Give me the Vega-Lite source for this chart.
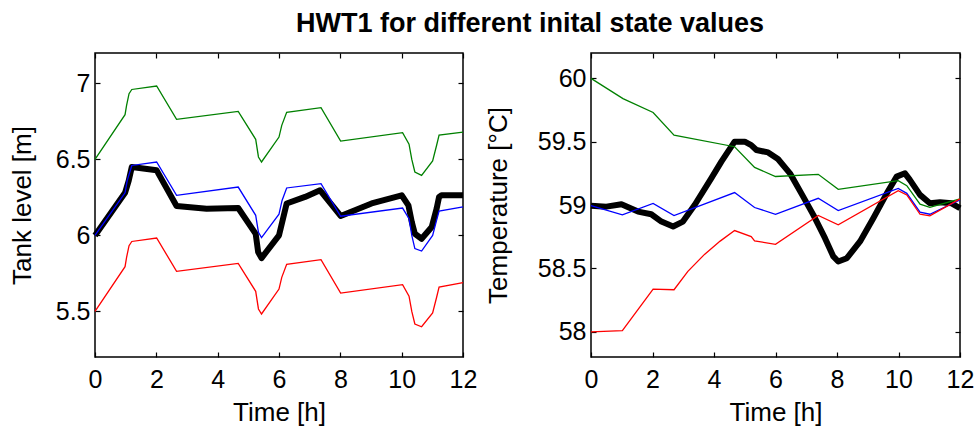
{
  "$schema": "https://vega.github.io/schema/vega-lite/v6.json",
  "padding": {"left": 8, "top": 9, "right": 5, "bottom": 2},
  "title": {"text": "HWT1 for different inital state values", "fontSize": 27, "fontWeight": "bold", "font": "Liberation Sans", "color": "black", "anchor": "start", "align": "center", "frame": "group", "dx": 435, "offset": 14},
  "config": {
    "font": "Liberation Sans",
    "view": {"stroke": "black", "strokeWidth": 1.5},
    "axis": {"labelFontSize": 25, "titleFontSize": 26, "titleFontWeight": "normal", "labelColor": "black", "titleColor": "black", "domain": false, "tickColor": "black", "tickSize": -5, "tickWidth": 1.2, "grid": false, "labelFont": "Liberation Sans", "titleFont": "Liberation Sans", "labelFlush": false, "format": "~g"}
  },
  "spacing": 128,
  "bounds": "flush",
  "datasets": {
    "tank": [
      {"s": "black", "t": 0, "v": 6.0}, {"s": "black", "t": 0.98, "v": 6.28}, {"s": "black", "t": 1.1, "v": 6.36}, {"s": "black", "t": 1.2, "v": 6.45}, {"s": "black", "t": 2.01, "v": 6.428}, {"s": "black", "t": 2.66, "v": 6.193}, {"s": "black", "t": 3.64, "v": 6.176}, {"s": "black", "t": 4.67, "v": 6.18}, {"s": "black", "t": 5.24, "v": 6.01}, {"s": "black", "t": 5.32, "v": 5.89}, {"s": "black", "t": 5.43, "v": 5.851}, {"s": "black", "t": 6.0, "v": 6.0}, {"s": "black", "t": 6.25, "v": 6.21}, {"s": "black", "t": 6.85, "v": 6.253}, {"s": "black", "t": 7.34, "v": 6.297}, {"s": "black", "t": 8.01, "v": 6.128}, {"s": "black", "t": 9.02, "v": 6.21}, {"s": "black", "t": 10.0, "v": 6.264}, {"s": "black", "t": 10.22, "v": 6.198}, {"s": "black", "t": 10.33, "v": 6.088}, {"s": "black", "t": 10.43, "v": 6.011}, {"s": "black", "t": 10.65, "v": 5.978}, {"s": "black", "t": 10.98, "v": 6.055}, {"s": "black", "t": 11.14, "v": 6.176}, {"s": "black", "t": 11.22, "v": 6.253}, {"s": "black", "t": 11.3, "v": 6.264}, {"s": "black", "t": 12, "v": 6.264},
      {"s": "blue", "t": 0, "v": 6.0}, {"s": "blue", "t": 0.98, "v": 6.28}, {"s": "blue", "t": 1.05, "v": 6.36}, {"s": "blue", "t": 1.2, "v": 6.46}, {"s": "blue", "t": 2.01, "v": 6.483}, {"s": "blue", "t": 2.66, "v": 6.264}, {"s": "blue", "t": 4.67, "v": 6.318}, {"s": "blue", "t": 5.24, "v": 6.132}, {"s": "blue", "t": 5.33, "v": 6.02}, {"s": "blue", "t": 5.43, "v": 5.985}, {"s": "blue", "t": 6.0, "v": 6.14}, {"s": "blue", "t": 6.1, "v": 6.23}, {"s": "blue", "t": 6.25, "v": 6.312}, {"s": "blue", "t": 7.37, "v": 6.34}, {"s": "blue", "t": 8.01, "v": 6.126}, {"s": "blue", "t": 10.03, "v": 6.18}, {"s": "blue", "t": 10.24, "v": 6.11}, {"s": "blue", "t": 10.33, "v": 6.0}, {"s": "blue", "t": 10.43, "v": 5.913}, {"s": "blue", "t": 10.65, "v": 5.897}, {"s": "blue", "t": 11.01, "v": 6.0}, {"s": "blue", "t": 11.14, "v": 6.1}, {"s": "blue", "t": 11.22, "v": 6.16}, {"s": "blue", "t": 12, "v": 6.187},
      {"s": "green", "t": 0, "v": 6.5}, {"s": "green", "t": 0.98, "v": 6.794}, {"s": "green", "t": 1.03, "v": 6.856}, {"s": "green", "t": 1.11, "v": 6.932}, {"s": "green", "t": 1.2, "v": 6.96}, {"s": "green", "t": 2.01, "v": 6.983}, {"s": "green", "t": 2.66, "v": 6.764}, {"s": "green", "t": 4.67, "v": 6.816}, {"s": "green", "t": 5.24, "v": 6.632}, {"s": "green", "t": 5.33, "v": 6.516}, {"s": "green", "t": 5.43, "v": 6.483}, {"s": "green", "t": 6.0, "v": 6.647}, {"s": "green", "t": 6.09, "v": 6.724}, {"s": "green", "t": 6.25, "v": 6.81}, {"s": "green", "t": 7.37, "v": 6.84}, {"s": "green", "t": 8.01, "v": 6.62}, {"s": "green", "t": 10.03, "v": 6.676}, {"s": "green", "t": 10.24, "v": 6.6}, {"s": "green", "t": 10.33, "v": 6.5}, {"s": "green", "t": 10.43, "v": 6.417}, {"s": "green", "t": 10.65, "v": 6.395}, {"s": "green", "t": 11.01, "v": 6.49}, {"s": "green", "t": 11.14, "v": 6.593}, {"s": "green", "t": 11.22, "v": 6.66}, {"s": "green", "t": 12, "v": 6.68},
      {"s": "red", "t": 0, "v": 5.5}, {"s": "red", "t": 0.98, "v": 5.794}, {"s": "red", "t": 1.03, "v": 5.856}, {"s": "red", "t": 1.11, "v": 5.932}, {"s": "red", "t": 1.2, "v": 5.96}, {"s": "red", "t": 2.01, "v": 5.983}, {"s": "red", "t": 2.66, "v": 5.764}, {"s": "red", "t": 4.67, "v": 5.816}, {"s": "red", "t": 5.24, "v": 5.632}, {"s": "red", "t": 5.33, "v": 5.516}, {"s": "red", "t": 5.43, "v": 5.483}, {"s": "red", "t": 6.0, "v": 5.647}, {"s": "red", "t": 6.09, "v": 5.724}, {"s": "red", "t": 6.25, "v": 5.81}, {"s": "red", "t": 7.37, "v": 5.84}, {"s": "red", "t": 8.01, "v": 5.62}, {"s": "red", "t": 10.03, "v": 5.676}, {"s": "red", "t": 10.24, "v": 5.6}, {"s": "red", "t": 10.33, "v": 5.5}, {"s": "red", "t": 10.43, "v": 5.417}, {"s": "red", "t": 10.65, "v": 5.399}, {"s": "red", "t": 11.01, "v": 5.49}, {"s": "red", "t": 11.14, "v": 5.593}, {"s": "red", "t": 11.22, "v": 5.66}, {"s": "red", "t": 12, "v": 5.689}
    ],
    "temp": [
      {"s": "black", "t": 0, "v": 58.995}, {"s": "black", "t": 0.5, "v": 58.987}, {"s": "black", "t": 0.99, "v": 59.006}, {"s": "black", "t": 1.53, "v": 58.948}, {"s": "black", "t": 1.96, "v": 58.927}, {"s": "black", "t": 2.29, "v": 58.869}, {"s": "black", "t": 2.67, "v": 58.83}, {"s": "black", "t": 2.99, "v": 58.869}, {"s": "black", "t": 3.37, "v": 59.0}, {"s": "black", "t": 3.91, "v": 59.21}, {"s": "black", "t": 4.24, "v": 59.342}, {"s": "black", "t": 4.67, "v": 59.5}, {"s": "black", "t": 5.0, "v": 59.5}, {"s": "black", "t": 5.21, "v": 59.473}, {"s": "black", "t": 5.38, "v": 59.434}, {"s": "black", "t": 5.76, "v": 59.415}, {"s": "black", "t": 6.08, "v": 59.363}, {"s": "black", "t": 6.47, "v": 59.25}, {"s": "black", "t": 6.9, "v": 59.066}, {"s": "black", "t": 7.23, "v": 58.922}, {"s": "black", "t": 7.61, "v": 58.738}, {"s": "black", "t": 7.88, "v": 58.594}, {"s": "black", "t": 8.04, "v": 58.554}, {"s": "black", "t": 8.32, "v": 58.58}, {"s": "black", "t": 8.75, "v": 58.712}, {"s": "black", "t": 9.18, "v": 58.895}, {"s": "black", "t": 9.62, "v": 59.092}, {"s": "black", "t": 9.94, "v": 59.224}, {"s": "black", "t": 10.21, "v": 59.25}, {"s": "black", "t": 10.37, "v": 59.198}, {"s": "black", "t": 10.7, "v": 59.08}, {"s": "black", "t": 11.02, "v": 59.013}, {"s": "black", "t": 11.35, "v": 59.021}, {"s": "black", "t": 11.73, "v": 59.013}, {"s": "black", "t": 12, "v": 58.974},
      {"s": "blue", "t": 0, "v": 58.995}, {"s": "blue", "t": 1.02, "v": 58.922}, {"s": "blue", "t": 2.02, "v": 59.013}, {"s": "blue", "t": 2.7, "v": 58.917}, {"s": "blue", "t": 4.67, "v": 59.098}, {"s": "blue", "t": 5.32, "v": 58.98}, {"s": "blue", "t": 6.0, "v": 58.927}, {"s": "blue", "t": 7.39, "v": 59.053}, {"s": "blue", "t": 8.04, "v": 58.956}, {"s": "blue", "t": 9.99, "v": 59.131}, {"s": "blue", "t": 10.27, "v": 59.092}, {"s": "blue", "t": 10.7, "v": 58.943}, {"s": "blue", "t": 11.02, "v": 58.927}, {"s": "blue", "t": 12, "v": 59.04},
      {"s": "green", "t": 0, "v": 60.0}, {"s": "green", "t": 1.04, "v": 59.84}, {"s": "green", "t": 2.02, "v": 59.73}, {"s": "green", "t": 2.7, "v": 59.552}, {"s": "green", "t": 4.67, "v": 59.46}, {"s": "green", "t": 5.32, "v": 59.297}, {"s": "green", "t": 6.0, "v": 59.225}, {"s": "green", "t": 7.39, "v": 59.242}, {"s": "green", "t": 8.04, "v": 59.124}, {"s": "green", "t": 9.99, "v": 59.192}, {"s": "green", "t": 10.27, "v": 59.153}, {"s": "green", "t": 10.7, "v": 59.006}, {"s": "green", "t": 11.02, "v": 58.982}, {"s": "green", "t": 12, "v": 59.048},
      {"s": "red", "t": 0, "v": 57.998}, {"s": "red", "t": 1.02, "v": 58.008}, {"s": "red", "t": 2.02, "v": 58.336}, {"s": "red", "t": 2.7, "v": 58.331}, {"s": "red", "t": 3.15, "v": 58.476}, {"s": "red", "t": 3.7, "v": 58.612}, {"s": "red", "t": 4.2, "v": 58.715}, {"s": "red", "t": 4.67, "v": 58.798}, {"s": "red", "t": 5.21, "v": 58.751}, {"s": "red", "t": 5.32, "v": 58.717}, {"s": "red", "t": 6.0, "v": 58.69}, {"s": "red", "t": 7.39, "v": 58.917}, {"s": "red", "t": 8.04, "v": 58.843}, {"s": "red", "t": 9.99, "v": 59.113}, {"s": "red", "t": 10.27, "v": 59.079}, {"s": "red", "t": 10.7, "v": 58.927}, {"s": "red", "t": 11.02, "v": 58.914}, {"s": "red", "t": 12, "v": 59.048}
    ]
  },
  "hconcat": [
    {
      "width": 368, "height": 304,
      "data": {"name": "tank"},
      "layer": [
        {
          "transform": [{"filter": "datum.s === 'black'"}],
          "mark": {"type": "line", "color": "black", "strokeWidth": 6, "strokeJoin": "round"},
          "encoding": {
            "x": {"field": "t", "type": "quantitative", "scale": {"domain": [0, 12]}, "axis": {"title": "Time [h]", "values": [0, 2, 4, 6, 8, 10, 12], "labelPadding": 15, "titlePadding": 7}},
            "y": {"field": "v", "type": "quantitative", "scale": {"domain": [5.2, 7.2], "zero": false}, "axis": {"title": "Tank level [m]", "values": [5.5, 6, 6.5, 7], "labelPadding": 10, "titlePadding": 20}}
          }
        },
        {
          "transform": [{"filter": "datum.s !== 'black'"}],
          "mark": {"type": "line", "strokeWidth": 1.3},
          "encoding": {
            "x": {"field": "t", "type": "quantitative", "axis": null},
            "y": {"field": "v", "type": "quantitative", "axis": null},
            "color": {"field": "s", "type": "nominal", "scale": {"domain": ["blue", "green", "red"], "range": ["#0000ff", "#008000", "#ff0000"]}, "legend": null}
          }
        },
        {
          "mark": {"type": "line", "opacity": 0},
          "encoding": {
            "x": {"field": "t", "type": "quantitative", "axis": {"orient": "top", "labels": false, "title": null, "values": [0, 2, 4, 6, 8, 10, 12]}},
            "y": {"field": "v", "type": "quantitative", "axis": {"orient": "right", "labels": false, "title": null, "values": [5.5, 6, 6.5, 7]}},
            "detail": {"field": "s"}
          }
        }
      ],
      "resolve": {"axis": {"x": "independent", "y": "independent"}}
    },
    {
      "width": 369, "height": 304,
      "data": {"name": "temp"},
      "layer": [
        {
          "transform": [{"filter": "datum.s === 'black'"}],
          "mark": {"type": "line", "color": "black", "strokeWidth": 6, "strokeJoin": "round"},
          "encoding": {
            "x": {"field": "t", "type": "quantitative", "scale": {"domain": [0, 12]}, "axis": {"title": "Time [h]", "values": [0, 2, 4, 6, 8, 10, 12], "labelPadding": 15, "titlePadding": 7}},
            "y": {"field": "v", "type": "quantitative", "scale": {"domain": [57.8, 60.2], "zero": false}, "axis": {"title": "Temperature [°C]", "values": [58, 58.5, 59, 59.5, 60], "labelPadding": 10, "titlePadding": 26}}
          }
        },
        {
          "transform": [{"filter": "datum.s !== 'black'"}],
          "mark": {"type": "line", "strokeWidth": 1.3},
          "encoding": {
            "x": {"field": "t", "type": "quantitative", "axis": null},
            "y": {"field": "v", "type": "quantitative", "axis": null},
            "color": {"field": "s", "type": "nominal", "scale": {"domain": ["blue", "green", "red"], "range": ["#0000ff", "#008000", "#ff0000"]}, "legend": null}
          }
        },
        {
          "mark": {"type": "line", "opacity": 0},
          "encoding": {
            "x": {"field": "t", "type": "quantitative", "axis": {"orient": "top", "labels": false, "title": null, "values": [0, 2, 4, 6, 8, 10, 12]}},
            "y": {"field": "v", "type": "quantitative", "axis": {"orient": "right", "labels": false, "title": null, "values": [58, 58.5, 59, 59.5, 60]}},
            "detail": {"field": "s"}
          }
        }
      ],
      "resolve": {"axis": {"x": "independent", "y": "independent"}}
    }
  ]
}
